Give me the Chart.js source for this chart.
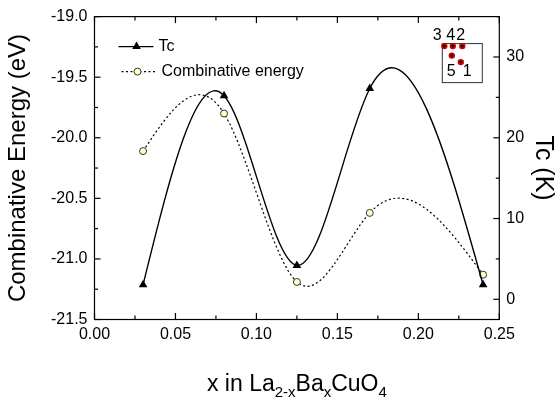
<!DOCTYPE html>
<html>
<head>
<meta charset="utf-8">
<title>Tc and combinative energy vs x</title>
<script src="https://cdn.jsdelivr.net/npm/chart.js@4.4.1/dist/chart.umd.min.js"></script>
<style>
  html, body { margin: 0; padding: 0; background: #fff; }
  #wrap { width: 558px; height: 405px; }
</style>
</head>
<body>
<div id="wrap"><canvas id="chart" width="558" height="405"></canvas></div>
<script>
// Data
const xValues = [0.03, 0.08, 0.125, 0.17, 0.24];
const tcValues = [1.8, 25.2, 4.2, 26.1, 1.8];               // K, right axis
const energyValues = [-20.11, -19.80, -21.19, -20.62, -21.13]; // eV, left axis

const FONT = "'Liberation Sans', Arial, sans-serif";
Chart.defaults.font.family = FONT;
Chart.defaults.color = '#000';

// Slopes of a natural cubic spline through (xs, ys), used for the bezier control points
function naturalSlopes(xs, ys) {
  const n = xs.length;
  const h = [], d = [];
  for (let i = 0; i < n - 1; i++) {
    h.push(xs[i + 1] - xs[i]);
    d.push((ys[i + 1] - ys[i]) / h[i]);
  }
  const M = new Array(n).fill(0);
  if (n > 2) {
    const a = [], b = [], c = [], r = [];
    for (let i = 1; i < n - 1; i++) {
      a.push(h[i - 1]); b.push(2 * (h[i - 1] + h[i])); c.push(h[i]);
      r.push(6 * (d[i] - d[i - 1]));
    }
    const m = b.length;
    for (let i = 1; i < m; i++) {
      const w = a[i] / b[i - 1];
      b[i] -= w * c[i - 1];
      r[i] -= w * r[i - 1];
    }
    const sol = new Array(m);
    sol[m - 1] = r[m - 1] / b[m - 1];
    for (let i = m - 2; i >= 0; i--) sol[i] = (r[i] - c[i] * sol[i + 1]) / b[i];
    for (let i = 0; i < m; i++) M[i + 1] = sol[i];
  }
  const slopes = [];
  for (let i = 0; i < n - 1; i++) slopes.push(d[i] - h[i] * (2 * M[i] + M[i + 1]) / 6);
  slopes.push(d[n - 2] + h[n - 2] * (M[n - 2] + 2 * M[n - 1]) / 6);
  return slopes;
}

// Replace Chart.js control points with spline ones (the original was drawn as a spline)
const splinePlugin = {
  id: 'spline',
  beforeDatasetsDraw(chart) {
    chart.data.datasets.forEach((ds, i) => {
      const meta = chart.getDatasetMeta(i);
      const line = meta.dataset;
      line.updateControlPoints(chart.chartArea, meta.iScale.axis);
      const pts = meta.data;
      const xs = pts.map(p => p.x);
      const ys = pts.map(p => p.y);
      const s = naturalSlopes(xs, ys);
      for (let k = 0; k < pts.length; k++) {
        const hp = k > 0 ? (xs[k] - xs[k - 1]) / 3 : 0;
        const hn = k < pts.length - 1 ? (xs[k + 1] - xs[k]) / 3 : 0;
        pts[k].cp1x = xs[k] - hp; pts[k].cp1y = ys[k] - s[k] * hp;
        pts[k].cp2x = xs[k] + hn; pts[k].cp2y = ys[k] + s[k] * hn;
      }
      line._path = undefined;
    });
  }
};

function nearMultiple(v, step) {
  return Math.abs(v / step - Math.round(v / step)) < 1e-6;
}

// Frame, inward ticks, legend, x title and the small inset
const decorPlugin = {
  id: 'decor',
  afterDraw(chart) {
    const { ctx, chartArea: a, scales } = chart;
    const seg = (x1, y1, x2, y2) => { ctx.beginPath(); ctx.moveTo(x1, y1); ctx.lineTo(x2, y2); ctx.stroke(); };
    ctx.save();
    ctx.strokeStyle = '#000';
    ctx.lineWidth = 1.2;
    ctx.strokeRect(a.left, a.top, a.right - a.left, a.bottom - a.top);

    scales.x.ticks.forEach(t => {
      const px = scales.x.getPixelForValue(t.value);
      const len = nearMultiple(t.value, 0.05) ? 6.5 : 4;
      seg(px, a.bottom, px, a.bottom - len);
      seg(px, a.top, px, a.top + len);
    });
    scales.y.ticks.forEach(t => {
      const py = scales.y.getPixelForValue(t.value);
      const len = nearMultiple(t.value, 0.5) ? 6 : 3.5;
      seg(a.left, py, a.left + len, py);
    });
    scales.y1.ticks.forEach(t => {
      if (!nearMultiple(t.value, 5)) return;
      const py = scales.y1.getPixelForValue(t.value);
      const len = nearMultiple(t.value, 10) ? 6 : 3.5;
      seg(a.right, py, a.right - len, py);
    });

    // legend
    const lx = a.left;
    ctx.fillStyle = '#000';
    ctx.font = '16px ' + FONT;
    ctx.textBaseline = 'middle';
    ctx.lineWidth = 1.4;
    seg(lx + 24, a.top + 30, lx + 59, a.top + 30);
    drawTriangle(ctx, lx + 42, a.top + 30, 5);
    ctx.fillText('Tc', lx + 64, a.top + 30);

    ctx.lineWidth = 1.2;
    ctx.setLineDash([2, 2.5]);
    seg(lx + 27, a.top + 55, lx + 63, a.top + 55);
    ctx.setLineDash([]);
    ctx.beginPath();
    ctx.arc(lx + 43, a.top + 55, 3.5, 0, Math.PI * 2);
    ctx.fillStyle = '#ffffc8';
    ctx.fill();
    ctx.lineWidth = 1;
    ctx.strokeStyle = '#333';
    ctx.stroke();
    ctx.fillStyle = '#000';
    ctx.fillText('Combinative energy', lx + 67, a.top + 55);

    // x axis title with subscripts
    const cx = (a.left + a.right) / 2;
    const base = 391;
    const big = '23px ' + FONT, small = '15px ' + FONT;
    const parts = [['x in La', big, 0], ['2-x', small, 6], ['Ba', big, 0], ['x', small, 6], ['CuO', big, 0], ['4', small, 6]];
    let total = 0;
    parts.forEach(p => { ctx.font = p[1]; total += ctx.measureText(p[0]).width; });
    let x = cx - total / 2;
    ctx.textBaseline = 'alphabetic';
    ctx.textAlign = 'left';
    parts.forEach(p => {
      ctx.font = p[1];
      ctx.fillText(p[0], x, base + p[2]);
      x += ctx.measureText(p[0]).width;
    });

    // inset sketch of the dopant sites
    const bx = a.right - 57, by = a.top + 27;
    ctx.strokeStyle = '#333';
    ctx.lineWidth = 1;
    ctx.strokeRect(bx, by, 40, 39);
    const dots = [[2, 2.5], [10.5, 2.5], [20, 2.5], [9.5, 12], [18.5, 18.5]];
    dots.forEach(d => {
      ctx.beginPath(); ctx.arc(bx + d[0], by + d[1], 3.2, 0, Math.PI * 2);
      ctx.fillStyle = '#d40000'; ctx.fill();
      ctx.beginPath(); ctx.arc(bx + d[0], by + d[1], 1.4, 0, Math.PI * 2);
      ctx.fillStyle = '#000'; ctx.fill();
    });
    ctx.fillStyle = '#000';
    ctx.font = '16px ' + FONT;
    ctx.textAlign = 'center';
    ctx.textBaseline = 'middle';
    ctx.fillText('3', bx - 5, by - 8);
    ctx.fillText('4', bx + 8.5, by - 8);
    ctx.fillText('2', bx + 18.5, by - 8);
    ctx.fillText('5', bx + 9, by + 28);
    ctx.fillText('1', bx + 25, by + 28);
    ctx.restore();
  }
};

function drawTriangle(ctx, x, y, r) {
  ctx.beginPath();
  ctx.moveTo(x, y - r);
  ctx.lineTo(x + r * Math.sin(Math.PI * 2 / 3), y + r / 2);
  ctx.lineTo(x - r * Math.sin(Math.PI * 2 / 3), y + r / 2);
  ctx.closePath();
  ctx.fillStyle = '#000';
  ctx.fill();
}

const tcPoints = xValues.map((x, i) => ({ x: x, y: tcValues[i] }));
const energyPoints = xValues.map((x, i) => ({ x: x, y: energyValues[i] }));

new Chart(document.getElementById('chart'), {
  type: 'line',
  data: {
    datasets: [{
      label: 'Tc',
      data: tcPoints,
      yAxisID: 'y1',
      borderColor: '#000',
      borderWidth: 1.4,
      tension: 0.4,
      pointStyle: 'triangle',
      pointRadius: 5,
      pointBackgroundColor: '#000',
      pointBorderColor: '#000',
      pointBorderWidth: 0
    }, {
      label: 'Combinative energy',
      data: energyPoints,
      yAxisID: 'y',
      borderColor: '#000',
      borderWidth: 1.2,
      borderDash: [2, 2.5],
      tension: 0.4,
      pointStyle: 'circle',
      pointRadius: 3.5,
      pointBackgroundColor: '#ffffc8',
      pointBorderColor: '#333',
      pointBorderWidth: 1
    }]
  },
  options: {
    responsive: false,
    animation: false,
    layout: { padding: { top: 15, left: 0, right: 0, bottom: 0 } },
    plugins: {
      legend: { display: false },
      tooltip: { enabled: false }
    },
    scales: {
      x: {
        type: 'linear',
        min: 0,
        max: 0.25,
        afterFit: (scale) => { scale.height = 85.5; },
        border: { display: false },
        grid: { drawOnChartArea: false, drawTicks: false },
        ticks: {
          stepSize: 0.025,
          autoSkip: false,
          maxRotation: 0,
          padding: 5,
          font: { size: 16 },
          callback: (v) => nearMultiple(v, 0.05) ? v.toFixed(2) : ''
        }
      },
      y: {
        position: 'left',
        min: -21.5,
        max: -19,
        afterFit: (scale) => { scale.width = 94.5; },
        border: { display: false },
        grid: { drawOnChartArea: false, drawTicks: false },
        title: {
          display: true,
          text: 'Combinative Energy (eV)',
          font: { size: 24 },
          padding: { top: 4, bottom: 0 }
        },
        ticks: {
          stepSize: 0.25,
          autoSkip: false,
          padding: 7,
          font: { size: 16 },
          callback: (v) => nearMultiple(v, 0.5) ? v.toFixed(1) : ''
        }
      },
      y1: {
        position: 'right',
        min: -2.5,
        max: 35,
        afterFit: (scale) => { scale.width = 58.7; },
        border: { display: false },
        grid: { drawOnChartArea: false, drawTicks: false },
        title: {
          display: true,
          text: 'Tc (K)',
          font: { size: 25 },
          padding: { top: 0, bottom: 0 }
        },
        ticks: {
          stepSize: 5,
          autoSkip: false,
          padding: 7,
          font: { size: 16 },
          callback: (v) => (v >= 0 && nearMultiple(v, 10)) ? String(v) : ''
        }
      }
    }
  },
  plugins: [splinePlugin, decorPlugin]
});
</script>
</body>
</html>
